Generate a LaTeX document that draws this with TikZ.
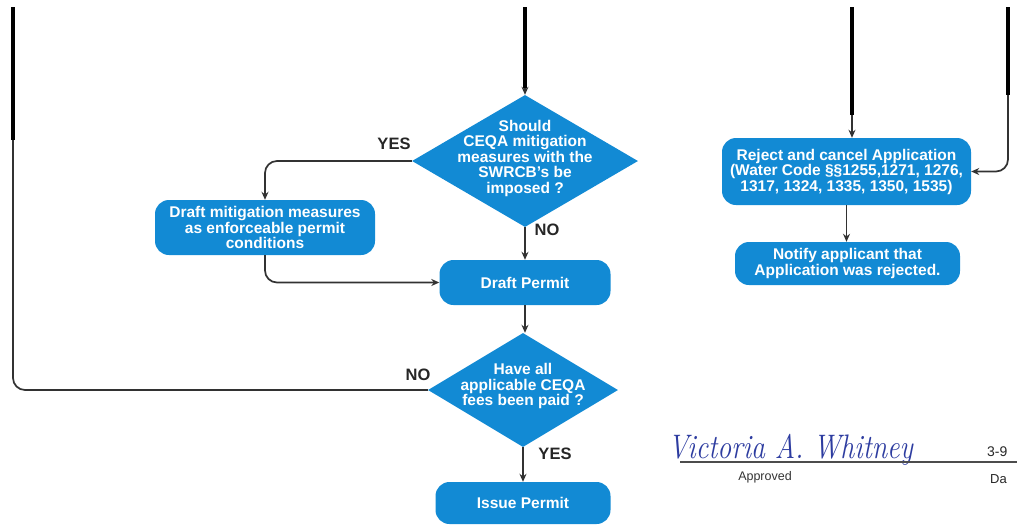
\documentclass[tikz,border=0pt]{standalone}
\usepackage{fontspec}
\setsansfont{Liberation Sans}
\usetikzlibrary{shapes.geometric,arrows.meta}
\definecolor{boxblue}{RGB}{18,138,212}
\definecolor{linegray}{RGB}{50,50,50}
\definecolor{sigblue}{RGB}{45,60,160}
\tikzset{
  boxfont/.style={font=\sffamily\bfseries\fontsize{15.5}{15.5}\selectfont},
  box/.style={rectangle, rounded corners=14pt, fill=boxblue, text=white, boxfont, align=center, inner sep=0pt},
  dmd/.style={diamond, fill=boxblue, inner sep=0pt},
  dtxt/.style={text=white, boxfont, align=center, inner sep=0pt},
  lbl/.style={font=\sffamily\bfseries\fontsize{16.5}{16.5}\selectfont, text=black!85, inner sep=0pt},
  conn/.style={draw=linegray, line width=1.7pt, rounded corners=12pt},
  arr/.style={conn, -{Stealth[length=8pt,width=7pt]}},
  heavy/.style={draw=black, line width=4.5pt},
  small/.style={font=\sffamily\fontsize{12.5}{12.5}\selectfont, text=black!80, inner sep=0pt},
}
\begin{document}
\begin{tikzpicture}[x=1pt,y=-1pt]
\useasboundingbox (0,0) rectangle (1017,525);
% shapes
\node[dmd, minimum width=226pt, minimum height=132pt] (d1) at (525,161) {};
\node[dtxt] (d1t) at (525,158) {Should\\CEQA mitigation\\measures with the\\SWRCB's be\\imposed ?};
\node[box, minimum width=220pt, minimum height=55pt] (mit) at (265,227.5) {Draft mitigation measures\\as enforceable permit\\conditions};
\node[box, minimum width=171pt, minimum height=45pt] (dp) at (525,282.5) {Draft Permit};
\node[dmd, minimum width=190pt, minimum height=114pt] (d2) at (523,390) {};
\node[dtxt] (d2t) at (523,386) {Have all\\applicable CEQA\\fees been paid ?};
\node[box, minimum width=175pt, minimum height=42pt] (ip) at (523,503) {Issue Permit};
\node[box, minimum width=249pt, minimum height=67pt] (rej) at (846.5,171.5) {Reject and cancel Application\\(Water Code §§1255,1271, 1276,\\1317, 1324, 1335, 1350, 1535)};
\node[box, minimum width=225pt, minimum height=43pt] (ntf) at (847.5,263.5) {Notify applicant that\\Application was rejected.};
% labels
\node[lbl] (yes1) at (394,144) {YES};
\node[lbl] (no1) at (547,230) {NO};
\node[lbl] (no2) at (418,375) {NO};
\node[lbl] (yes2) at (555,454) {YES};
% incoming lines
\coordinate (a0) at (13,7);
\coordinate (a1) at (13,140);
\coordinate (b0) at (525,7);
\coordinate (b1) at (525,88);
\coordinate (c0) at (852,7);
\coordinate (c1) at (852,115);
\coordinate (e0) at (1008,7);
\coordinate (e1) at (1008,95);
\draw[heavy] (a0) -- (a1);
\draw[heavy] (b0) -- (b1);
\draw[heavy] (c0) -- (c1);
\draw[heavy] (e0) -- (e1);
\draw[conn] (d2.west) -| (a1);
\draw[arr] (b1) -- (b1 |- d1.north);
\draw[arr] (c1) -- (c1 |- rej.north);
\draw[arr] (e1) |- (rej.east);
% flow
\draw[arr] (d1.west) -| (mit.north);
\draw[arr] (mit.south) |- (dp.west);
\draw[arr] (d1.south) -- (d1.south |- dp.north);
\draw[arr] (dp.south) -- (dp.south |- d2.north);
\draw[arr] (d2.south) -- (d2.south |- ip.north);
\draw[arr] (rej.south) -- (rej.south |- ntf.north);
% signature
\node[font=\rmfamily\itshape\fontsize{34}{34}\selectfont, text=sigblue, anchor=base west, inner sep=0pt, xscale=0.82] (sig) at (668,458) {Victoria A. Whitney};
\coordinate (s0) at (680,462);
\coordinate (s1) at (1017,462);
\draw[draw=black!70, line width=1.2pt] (s0) -- (s1);
\node[small] (appr) at (765,477) {Approved};
\node[small, font=\sffamily\fontsize{14}{14}\selectfont, text=black!85, anchor=west] (date) at (987,452) {3-9};
\node[small, font=\sffamily\fontsize{13}{13}\selectfont, text=black!85, anchor=west] (datel) at (990,479) {Da};
\end{tikzpicture}
\end{document}
